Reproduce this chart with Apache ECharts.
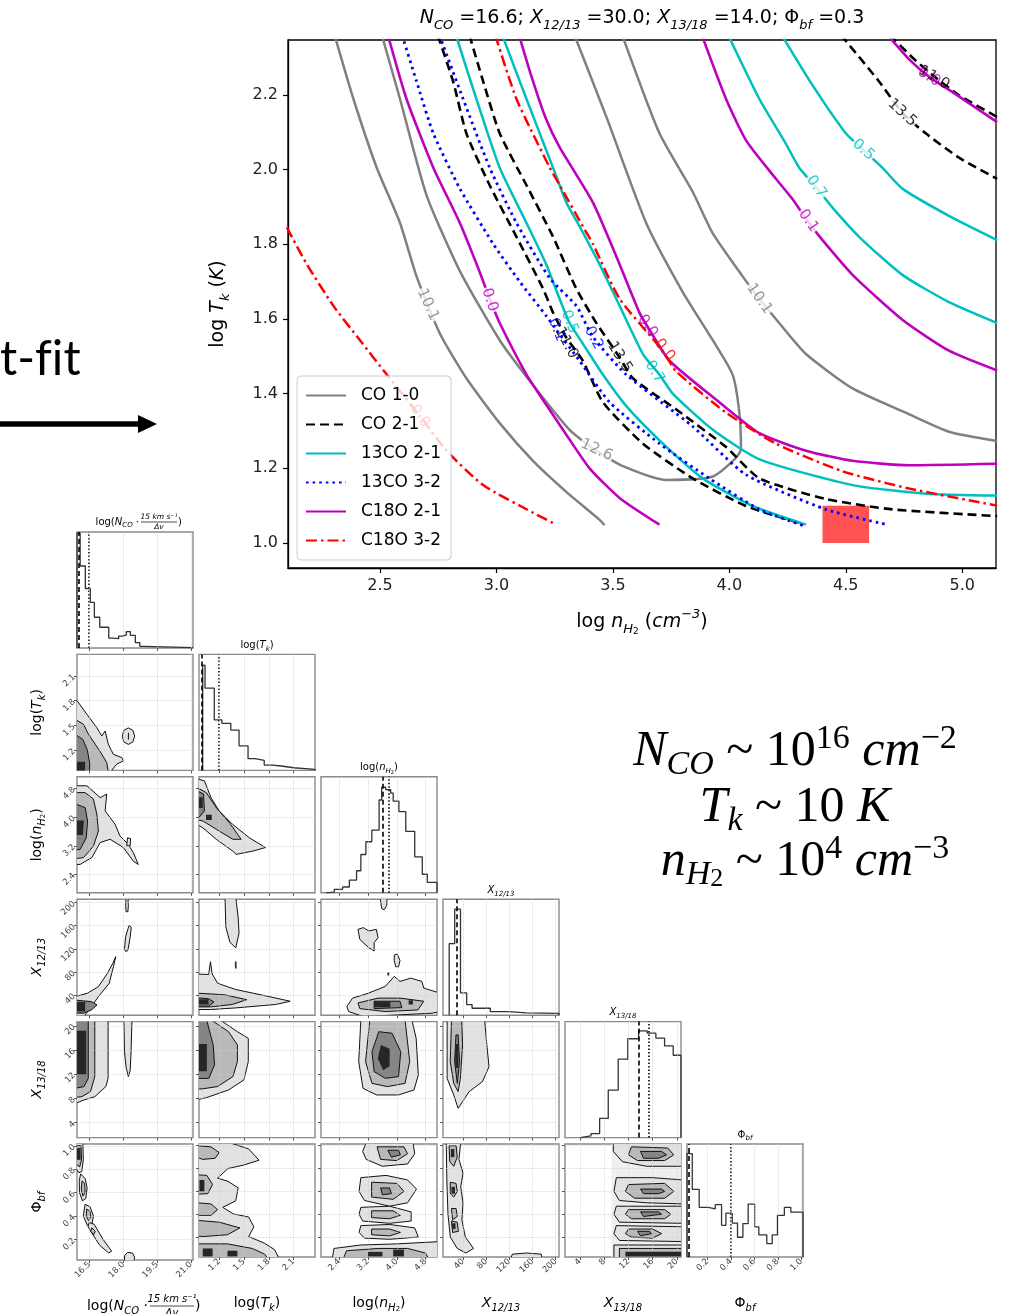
<!DOCTYPE html>
<html><head><meta charset="utf-8">
<script src="https://cdn.jsdelivr.net/npm/echarts@6/dist/echarts.min.js"></script>
<style>html,body{margin:0;padding:0;background:#fff}#c{width:1012px;height:1314px}</style>
</head><body><div id="c"></div><script>
// ================= MAIN CHART DATA (log n_H2, log T_k) =================
const mainXTicks=[2.5,3.0,3.5,4.0,4.5,5.0];
const mainYTicks=[1.0,1.2,1.4,1.6,1.8,2.0,2.2];
const mainXRange=[2.105,5.145];
const mainYRange=[0.933,2.347];
// CO 1-0
const co10_a=[[2.305,2.36],[2.386,2.189],[2.486,2.005],[2.586,1.857],[2.657,1.714],[2.757,1.561],[2.871,1.441],[3.014,1.321],[3.157,1.220],[3.300,1.137],[3.443,1.062],[3.464,1.048]];
const co10_b=[[2.508,2.36],[2.586,2.189],[2.700,1.931],[2.843,1.728],[3.014,1.543],[3.157,1.423],[3.314,1.303],[3.429,1.247],[3.543,1.206],[3.729,1.169],[3.929,1.178],[4.050,1.252],[4.043,1.349],[4.014,1.451],[3.929,1.543],[3.800,1.672],[3.643,1.857],[3.471,2.143],[3.335,2.36]];
const co10_c=[[3.54,2.36],[3.700,2.097],[3.843,1.940],[3.929,1.829],[4.057,1.714],[4.129,1.654],[4.214,1.589],[4.329,1.506],[4.529,1.414],[4.757,1.349],[4.943,1.298],[5.15,1.273]];
// CO 2-1
const co21_a=[[2.748,2.36],[2.814,2.236],[2.871,2.097],[2.971,1.958],[3.086,1.820],[3.200,1.681],[3.243,1.617],[3.30,1.55],[3.371,1.488],[3.457,1.377],[3.629,1.266],[3.843,1.173],[4.071,1.099],[4.300,1.054]];
const co21_b=[[2.884,2.36],[2.943,2.236],[3.014,2.097],[3.129,1.958],[3.243,1.820],[3.343,1.681],[3.429,1.589],[3.529,1.497],[3.586,1.441],[3.771,1.358],[3.986,1.257],[4.129,1.173],[4.414,1.118],[4.700,1.090],[5.15,1.072]];
const co21_c=[[4.48,2.36],[4.643,2.236],[4.743,2.152],[4.843,2.097],[4.986,2.032],[5.15,1.975]];
const co21_d=[[4.69,2.36],[4.786,2.300],[4.871,2.254],[4.986,2.199],[5.15,2.141]];
// 13CO 2-1
const c13_21_a=[[2.826,2.36],[2.914,2.189],[3.014,2.005],[3.129,1.857],[3.214,1.746],[3.271,1.654],[3.314,1.589],[3.371,1.534],[3.457,1.451],[3.557,1.367],[3.700,1.275],[3.886,1.173],[4.100,1.099],[4.329,1.049]];
const c13_21_b=[[3.025,2.36],[3.129,2.189],[3.243,2.005],[3.30,1.912],[3.357,1.848],[3.443,1.746],[3.529,1.635],[3.629,1.506],[3.700,1.451],[3.757,1.400],[3.929,1.303],[4.129,1.224],[4.529,1.155],[4.843,1.132],[5.15,1.127]];
const c13_21_c=[[3.995,2.36],[4.129,2.189],[4.243,2.069],[4.300,2.005],[4.371,1.954],[4.443,1.898],[4.557,1.820],[4.743,1.718],[4.943,1.645],[5.15,1.589]];
const c13_21_d=[[4.225,2.36],[4.357,2.226],[4.500,2.097],[4.571,2.055],[4.657,2.005],[4.743,1.949],[4.943,1.876],[5.15,1.811]];
// 13CO 3-2
const c13_32_a=[[2.595,2.36],[2.657,2.236],[2.729,2.097],[2.843,1.949],[2.986,1.801],[3.100,1.700],[3.214,1.608],[3.257,1.571],[3.357,1.488],[3.486,1.377],[3.700,1.266],[3.914,1.173],[4.129,1.090],[4.329,1.044]];
const c13_32_b=[[2.755,2.36],[2.857,2.189],[2.971,2.005],[3.086,1.857],[3.229,1.709],[3.343,1.635],[3.414,1.552],[3.557,1.451],[3.843,1.312],[4.071,1.183],[4.414,1.090],[4.679,1.049]];
// C18O 2-1
const c18_21_a=[[2.534,2.36],[2.614,2.189],[2.729,2.005],[2.843,1.857],[2.921,1.737],[2.971,1.654],[3.014,1.589],[3.129,1.451],[3.214,1.37],[3.300,1.29],[3.40,1.20],[3.53,1.12],[3.700,1.049]];
const c18_21_b=[[3.097,2.36],[3.15,2.25],[3.21,2.14],[3.271,2.06],[3.414,1.912],[3.529,1.746],[3.614,1.617],[3.657,1.571],[3.743,1.488],[3.957,1.377],[4.129,1.294],[4.329,1.247],[4.529,1.220],[4.771,1.208],[5.15,1.212]];
const c18_21_c=[[3.882,2.36],[3.986,2.189],[4.071,2.079],[4.186,1.986],[4.271,1.921],[4.336,1.862],[4.400,1.811],[4.529,1.718],[4.743,1.598],[4.943,1.515],[5.15,1.462]];
const c18_21_d=[[4.68,2.36],[4.771,2.296],[4.857,2.249],[4.957,2.208],[5.15,2.127]];
// C18O 3-2
const c18_32_a=[[2.10,1.845],[2.186,1.746],[2.300,1.635],[2.414,1.543],[2.529,1.451],[2.671,1.340],[2.786,1.247],[2.943,1.155],[3.157,1.081],[3.257,1.049]];
const c18_32_b=[[2.995,2.36],[3.086,2.189],[3.229,2.005],[3.271,1.959],[3.371,1.848],[3.414,1.801],[3.529,1.654],[3.714,1.515],[3.771,1.460],[3.986,1.349],[4.200,1.266],[4.486,1.192],[4.771,1.146],[5.15,1.100]];
// best-fit box [x0,y0,x1,y1]
const bestBox=[4.4,1.0,4.6,1.1];
// contour labels: [x, y, text, group]
const contourLabels=[
 [2.706,1.638,'10.1',0],[3.43,1.249,'12.6',0],[4.129,1.654,'10.1',0],
 [3.30,1.536,'11.0',1],[3.529,1.498,'13.5',1],[4.742,2.152,'13.5',1],[4.879,2.246,'11.0',1],
 [3.314,1.592,'0.5',2],[3.679,1.458,'0.7',2],[4.373,1.954,'0.7',2],[4.575,2.053,'0.5',2],
 [3.259,1.571,'0.1',3],[3.417,1.549,'0.2',3],
 [2.971,1.651,'0.0',4],[3.649,1.581,'0.0',4],[4.339,1.863,'0.1',4],[4.857,2.248,'0.0',4],
 [2.671,1.340,'0.0',5],[3.722,1.517,'0.0',5]
];
const contourLabelAngles=[-66,-25,-55,-62,-58,-42,-30,-68,-58,-55,-42,-68,-62,-72,-55,-55,-32,-55,-52];
const contourLabelCut=[1,1,1,0,0,1,0,0,0,1,1,0,0,1,0,1,0,0,0];

// ================= CORNER PLOT DATA =================
const rangeN=[15.94,21.09], rangeT=[0.955,2.36], rangeNH=[1.89,5.12], rangeX12=[5.4,205.7], rangeX13=[1.5,20.7], rangePhi=[0.025,1.015];
const ticksN=[16.5,18.0,19.5,21.0], ticksT=[1.2,1.5,1.8,2.1], ticksNH=[2.4,3.2,4.0,4.8], ticksX12=[40,80,120,160,200], ticksX13=[4,8,12,16,20], ticksPhi=[0.2,0.4,0.6,0.8,1.0];
// 1D histograms (bin edges, relative heights), best (dashed) and median (dotted)
const histN_edges=[15.94,16.08,16.31,16.53,16.71,16.95,17.35,17.57,17.79,17.99,18.13,18.31,18.53,18.73,18.91,21.09];
const histN_h=[0.99,0.707,0.513,0.393,0.265,0.179,0.085,0.08,0.103,0.114,0.142,0.108,0.046,0.014,0.004];
const histT_edges=[1.0,1.028,1.14,1.232,1.34,1.44,1.549,1.633,1.745,1.842,1.95,2.1,2.36];
const histT_h=[0.907,0.71,0.435,0.406,0.348,0.212,0.101,0.087,0.046,0.038,0.023,0.009];
const histNH_edges=[2.03,2.26,2.49,2.68,2.88,3.0,3.14,3.305,3.508,3.58,3.69,3.83,3.90,4.06,4.25,4.50,4.71,4.85,5.12];
const histNH_h=[0.006,0.03,0.05,0.11,0.19,0.33,0.44,0.54,0.8,0.91,0.89,0.86,0.79,0.70,0.53,0.31,0.16,0.09];
const histX12_edges=[16.1,25.6,35.6,46.3,55.6,87.1,118.3,149.9,205.7];
const histX12_h=[0.617,0.914,0.193,0.092,0.06,0.03,0.02,0.015];
const histX13_edges=[4.01,5.80,7.23,8.66,10.31,11.89,13.68,15.11,16.54,17.98,19.41,20.7];
const histX13_h=[0.014,0.034,0.165,0.41,0.676,0.852,0.92,0.9,0.858,0.79,0.71];
const histPhi_edges=[0.025,0.07,0.129,0.207,0.266,0.32,0.357,0.411,0.456,0.502,0.547,0.602,0.638,0.706,0.752,0.797,0.856,0.911,0.979,1.015];
const histPhi_h=[0.914,0.598,0.44,0.425,0.463,0.28,0.388,0.30,0.175,0.296,0.468,0.267,0.195,0.118,0.195,0.368,0.44,0.397,0.397];
const bestVals=[16.02,0.987,3.6,29.4,13.7,0.039];
const medianVals=[16.46,1.2,3.78,null,15.33,0.4];

// 2D contour polygons (data units)
const p10_outer=[[15.85,1.835],[16.38,1.634],[16.82,1.473],[17.04,1.372],[17.19,1.433],[17.33,1.272],[17.55,1.151],[17.93,1.11],[18.0,1.07],[17.7,1.03],[17.41,0.93],[15.85,0.93]];
const p10_mid=[[15.85,1.574],[16.23,1.513],[16.45,1.393],[16.75,1.272],[17.04,1.151],[17.26,1.05],[17.33,0.93],[15.85,0.93]];
const p10_inner=[[15.85,1.393],[16.2,1.33],[16.4,1.2],[16.5,1.05],[16.5,0.93],[15.85,0.93]];
const p10_core=[[15.85,1.06],[16.3,1.06],[16.3,0.93],[15.85,0.93]];
const p10_isl=[[18.22,1.47],[18.42,1.44],[18.5,1.37],[18.42,1.30],[18.22,1.27],[18.02,1.30],[17.95,1.37],[18.02,1.44]];
const p10_mark=[[18.2,1.33],[18.25,1.33],[18.25,1.41],[18.2,1.41]];
const p20_outer=[[15.85,4.87],[16.38,4.87],[16.97,4.54],[17.26,4.64],[17.19,4.17],[17.63,3.8],[17.85,3.47],[18.22,3.24],[18.44,3.01],[18.66,2.68],[18.44,2.77],[18.0,3.15],[17.41,3.38],[16.97,3.29],[16.6,2.87],[16.08,2.68],[15.85,2.68]];
const p20_mid=[[15.85,4.68],[16.3,4.68],[16.67,4.5],[16.82,4.08],[16.89,3.61],[16.67,3.19],[16.23,2.87],[15.85,2.84]];
const p20_inner=[[15.85,4.37],[16.3,4.26],[16.41,3.89],[16.35,3.42],[16.08,3.1],[15.85,3.08]];
const p20_core=[[15.85,3.5],[16.2,3.5],[16.25,3.9],[15.85,3.9]];
const p20_isl=[[18.15,3.2],[18.3,3.2],[18.32,3.4],[18.18,3.42]];
const p21_outer=[[0.93,5.06],[1.02,5.01],[1.10,4.54],[1.20,4.17],[1.36,3.8],[1.566,3.42],[1.759,3.15],[1.605,3.05],[1.405,2.96],[1.364,3.05],[1.164,3.38],[1.002,3.70],[0.93,3.80]];
const p21_mid=[[0.93,4.82],[1.043,4.68],[1.164,4.26],[1.324,3.84],[1.465,3.38],[1.364,3.38],[1.164,3.66],[1.002,3.89],[0.93,3.92]];
const p21_inner=[[0.93,4.73],[1.01,4.64],[1.02,4.17],[0.96,4.0],[0.93,4.0]];
const p21_core=[[1.04,3.92],[1.11,3.92],[1.11,4.06],[1.04,4.06]];
const p21_core2=[[0.93,4.25],[1.0,4.25],[1.0,4.55],[0.93,4.55]];
const p30_outer=[[15.85,37.4],[16.4,43.3],[16.89,54.7],[17.29,77.8],[17.53,95.1],[17.66,106.6],[17.56,89.4],[17.37,60.4],[16.89,37.4],[16.48,14.7],[16.24,3],[15.85,3]];
const p30_inner=[[15.85,31.6],[16.59,28.8],[16.83,23.2],[16.59,14.7],[16.24,8.9],[15.85,8.9]];
const p30_core=[[15.85,12],[16.3,12],[16.3,28],[15.85,28]];
const p30_isl1=[[18.05,120.3],[18.1,141.4],[18.25,160.4],[18.35,157.3],[18.3,140],[18.2,117.3],[18.1,115.2]];
const p30_isl2=[[18.12,184.1],[18.2,184.1],[18.22,194.7],[18.2,210],[18.12,210],[18.1,194.7]];
const p31_outer=[[0.93,76.5],[1.072,75.7],[1.094,97.8],[1.115,76.5],[1.182,60.4],[1.401,49.7],[1.708,40.5],[2.059,29.5],[1.884,23.9],[1.401,18.0],[1.094,15.2],[0.93,15.2]];
const p31_mid=[[0.93,43.6],[1.27,40.5],[1.533,32.2],[1.357,23.9],[1.094,19.7],[0.93,19.7]];
const p31_inner=[[0.93,35.5],[1.072,33.7],[1.137,28.1],[1.072,21.0],[0.93,21.0]];
const p31_core=[[0.93,24],[1.07,24],[1.07,33],[0.93,33]];
const p31_isl=[[1.27,210],[1.28,157.6],[1.33,131.2],[1.40,121.7],[1.44,147.0],[1.43,173.4],[1.40,210]];
const p31_mark=[[1.39,86],[1.41,86],[1.41,98],[1.39,98]];
const p32_outer=[[2.61,20.6],[2.77,34.9],[3.17,42.5],[3.68,55.1],[3.93,72.4],[4.09,63.7],[4.39,69.4],[4.70,63.7],[4.75,52.2],[5.2,43.6],[5.2,11.7],[4.98,8.8],[3.07,3],[2.66,11.7]];
const p32_mid=[[2.92,26.6],[3.48,34.9],[4.09,34.9],[4.75,29.5],[4.59,14.5],[3.68,11.7],[2.97,16.8]];
const p32_inner=[[3.37,29.5],[4.09,29.5],[4.14,18.5],[3.37,16.8]];
const p32_core=[[3.37,19],[3.82,19],[3.82,29],[3.37,29]];
const p32_core2=[[4.33,24],[4.45,24],[4.45,31],[4.33,31]];
const p32_isl1=[[2.92,153.6],[3.07,156.6],[3.22,150.9],[3.43,153.6],[3.48,139.3],[3.37,130.7],[3.37,116.3],[3.22,122.0],[2.97,136.4]];
const p32_isl2=[[3.53,210],[3.58,189.6],[3.65,187.5],[3.72,194.9],[3.73,210]];
const p32_isl3=[[3.93,109.2],[4.01,111],[4.09,100],[4.05,89],[3.97,89],[3.93,100]];
const p32_dot=[[3.74,74],[3.79,74],[3.79,79],[3.74,79]];
const p40_outer=[[15.85,21],[17.32,21],[17.32,11.32],[17.22,9.95],[16.73,8.27],[16.25,7.73],[15.85,7.13]];
const p40_mid=[[15.85,21],[16.73,21],[16.73,11.6],[16.54,9.11],[16.15,8.27],[15.85,8.17]];
const p40_inner=[[15.85,21],[16.44,21],[16.44,11.3],[16.25,9.95],[15.85,9.65]];
const p40_core=[[15.85,12],[16.35,12],[16.35,19.2],[15.85,19.2]];
const p40_isl=[[18.02,21],[18.05,15.7],[18.12,13.1],[18.22,11.6],[18.3,12.6],[18.34,15.7],[18.38,21]];
const p41_outer=[[0.93,21],[1.207,21],[1.42,19.03],[1.552,17.93],[1.552,14.08],[1.499,11.04],[1.313,9.39],[1.047,8.12],[0.93,7.75]];
const p41_mid=[[0.93,21],[1.101,21],[1.313,19.03],[1.42,16.84],[1.42,14.08],[1.366,11.6],[1.18,9.95],[0.993,9.56],[0.93,9.56]];
const p41_inner=[[0.93,21],[1.047,21],[1.127,16.84],[1.143,13.53],[1.074,11.3],[0.93,11.3]];
const p41_core=[[0.93,12.5],[1.05,12.5],[1.05,17],[0.93,17]];
const p42_outer=[[3.0,21],[2.94,14.08],[3.06,9.65],[3.44,8.56],[4.05,8.56],[4.48,9.39],[4.60,11.87],[4.54,17.93],[4.42,21]];
const p42_mid=[[3.25,21],[3.13,14.08],[3.31,10.48],[3.74,9.94],[4.23,10.48],[4.36,14.08],[4.23,21]];
const p42_inner=[[3.5,19.03],[3.31,15.73],[3.37,12.42],[3.68,11.31],[4.05,11.6],[4.11,15.73],[3.87,18.77]];
const p42_core=[[3.56,16.84],[3.47,14.64],[3.62,12.66],[3.8,13.29],[3.8,16.21]];
const p43_outer=[[12.5,21],[12.5,11.3],[23.9,8.56],[31.5,6.35],[39.2,7.45],[50.6,9.11],[73.5,10.76],[84.9,13.24],[81.1,16.84],[77.3,21]];
const p43_mid=[[20.1,21],[17.9,14.08],[23.9,10.48],[31.5,9.11],[35.4,11.31],[39.2,16.84],[37.7,21]];
const p43_inner=[[27.8,18.5],[25.5,14.08],[30.1,10.48],[33.9,14.08],[31.5,18.5]];
const p43_core=[[26.5,13],[32,13],[32,17],[26.5,17]];
const p50_b1=[[15.85,1.03],[16.2,1.03],[16.22,0.88],[16.15,0.78],[16.02,0.77],[15.85,0.82]];
const p50_b1i=[[15.85,1.0],[16.12,1.0],[16.14,0.88],[16.06,0.82],[15.85,0.85]];
const p50_b2=[[16.1,0.76],[16.3,0.72],[16.39,0.64],[16.33,0.55],[16.18,0.53],[16.05,0.6],[16.04,0.7]];
const p50_b2i=[[16.16,0.7],[16.28,0.68],[16.3,0.6],[16.2,0.57],[16.13,0.63]];
const p50_b3=[[16.3,0.5],[16.52,0.48],[16.67,0.40],[16.6,0.33],[16.4,0.32],[16.22,0.40]];
const p50_b3i=[[16.37,0.46],[16.52,0.44],[16.56,0.39],[16.45,0.36],[16.35,0.40]];
const p50_b4=[[16.48,0.345],[16.7,0.33],[17.1,0.2],[17.48,0.1],[17.35,0.085],[16.95,0.15],[16.55,0.27],[16.43,0.31]];
const p50_b4i=[[16.6,0.3],[16.75,0.27],[16.68,0.24],[16.55,0.27]];
const p50_b5=[[18.05,0.0],[18.05,0.06],[18.18,0.09],[18.4,0.085],[18.5,0.05],[18.45,0.0]];
const p50_core=[[15.85,0.88],[16.1,0.88],[16.1,0.98],[15.85,0.98]];
const p51_outer=[[0.93,1.03],[1.31,1.03],[1.557,0.972],[1.682,0.873],[1.494,0.83],[1.306,0.80],[1.18,0.716],[1.306,0.688],[1.43,0.631],[1.40,0.517],[1.243,0.46],[1.37,0.403],[1.557,0.375],[1.62,0.29],[1.557,0.204],[1.745,0.147],[1.87,0.09],[1.934,0.0],[0.93,0.0]];
const p51_a=[[0.93,1.0],[1.1,0.99],[1.2,0.94],[1.15,0.89],[1.0,0.88],[0.93,0.9]];
const p51_b=[[0.93,0.745],[1.05,0.74],[1.12,0.66],[1.06,0.58],[0.93,0.575]];
const p51_c=[[0.93,0.5],[1.1,0.49],[1.18,0.44],[1.1,0.39],[0.93,0.39]];
const p51_d=[[0.93,0.346],[1.2,0.33],[1.45,0.28],[1.3,0.22],[1.0,0.204],[0.93,0.21]];
const p51_e=[[0.93,0.14],[1.3,0.14],[1.6,0.1],[1.75,0.05],[1.8,0.0],[0.93,0.0]];
const p51_core1=[[1.0,0.03],[1.12,0.03],[1.12,0.1],[1.0,0.1]];
const p51_core2=[[1.3,0.03],[1.42,0.03],[1.42,0.08],[1.3,0.08]];
const p51_core3=[[0.96,0.6],[1.02,0.6],[1.02,0.7],[0.96,0.7]];
const p52_a0=[[3.15,1.03],[4.45,1.03],[4.5,0.93],[4.3,0.84],[3.6,0.82],[3.15,0.88],[3.05,0.95]];
const p52_a1=[[3.45,0.99],[4.2,0.99],[4.3,0.93],[4.0,0.87],[3.55,0.88]];
const p52_a2=[[3.75,0.96],[4.05,0.96],[4.1,0.92],[3.85,0.9]];
const p52_b0=[[3.0,0.72],[3.7,0.74],[4.3,0.7],[4.55,0.62],[4.3,0.5],[3.8,0.47],[3.1,0.52],[2.95,0.6]];
const p52_b1=[[3.3,0.68],[4.0,0.67],[4.2,0.6],[3.9,0.53],[3.3,0.55]];
const p52_b2=[[3.55,0.63],[3.8,0.63],[3.85,0.58],[3.6,0.57]];
const p52_c0=[[3.0,0.46],[3.8,0.47],[4.4,0.42],[4.4,0.34],[3.8,0.32],[3.05,0.34],[2.95,0.4]];
const p52_c1=[[3.3,0.43],[3.9,0.43],[4.1,0.39],[3.8,0.36],[3.3,0.37]];
const p52_d0=[[3.0,0.3],[3.8,0.31],[4.5,0.28],[4.6,0.2],[3.8,0.18],[3.1,0.19],[2.95,0.24]];
const p52_d1=[[3.3,0.27],[3.8,0.27],[4.1,0.24],[3.8,0.21],[3.3,0.22]];
const p52_e0=[[2.2,0.0],[2.25,0.1],[3.0,0.13],[4.0,0.14],[5.2,0.16],[5.2,0.0]];
const p52_e1=[[2.5,0.0],[2.6,0.08],[3.5,0.1],[4.3,0.1],[4.8,0.06],[4.9,0.0]];
const p52_core1=[[3.2,0.03],[3.6,0.03],[3.6,0.07],[3.2,0.07]];
const p52_core2=[[3.9,0.03],[4.2,0.03],[4.2,0.09],[3.9,0.09]];
const p53_outer=[[11,1.03],[36,1.03],[33,0.88],[40,0.76],[36,0.64],[40,0.5],[38,0.35],[44,0.2],[58,0.1],[45,0.06],[30,0.1],[18,0.2],[14,0.4],[12,0.7]];
const p53_i1=[[16,1.0],[28,1.0],[30,0.9],[24,0.82],[17,0.86]];
const p53_i2=[[18,0.68],[28,0.67],[30,0.6],[24,0.55],[18,0.58]];
const p53_i3=[[20,0.45],[28,0.45],[30,0.38],[22,0.35]];
const p53_i4=[[20,0.34],[30,0.33],[32,0.25],[22,0.24]];
const p53_core1=[[19,0.9],[25,0.9],[25,0.97],[19,0.97]];
const p53_core2=[[20,0.58],[26,0.58],[26,0.64],[20,0.64]];
const p53_core3=[[21,0.27],[27,0.27],[27,0.32],[21,0.32]];
const p53_isl=[[122,0.0],[125,0.05],[150,0.06],[175,0.05],[176,0.0]];
const p54_bg=[[9.2,0.0],[9.2,1.03],[21,1.03],[21,0.0]];
const p54_a0=[[9.5,1.03],[21,1.03],[21,0.82],[15,0.82],[11,0.86],[9.5,0.95]];
const p54_a1=[[12.5,0.99],[18.5,0.98],[19.5,0.92],[18,0.87],[13.5,0.87],[12,0.92]];
const p54_a2=[[14,0.95],[17.5,0.95],[18.3,0.92],[17,0.89],[14.5,0.89]];
const p54_b0=[[10,0.72],[16,0.72],[21,0.7],[21,0.49],[15,0.5],[10.5,0.52],[9.6,0.6]];
const p54_b1=[[12,0.66],[18,0.67],[19.5,0.6],[18,0.54],[13,0.54],[11.5,0.6]];
const p54_b2=[[14,0.62],[17.5,0.62],[18,0.6],[17,0.58],[14.5,0.58]];
const p54_c0=[[10,0.47],[21,0.47],[21,0.32],[10.5,0.33],[9.6,0.4]];
const p54_c1=[[12,0.44],[18,0.44],[19,0.4],[18,0.36],[12.5,0.36],[11.5,0.4]];
const p54_c2=[[14,0.42],[17,0.42],[17.5,0.4],[14.5,0.38]];
const p54_d0=[[10,0.3],[21,0.29],[21,0.16],[10.5,0.17],[9.6,0.23]];
const p54_d1=[[12,0.27],[16,0.27],[17.5,0.23],[16,0.19],[12.5,0.2],[11.5,0.23]];
const p54_d2=[[13.5,0.25],[15.5,0.25],[15.8,0.23],[14,0.21]];
const p54_e0=[[9.6,0.13],[21,0.13],[21,0.0],[9.6,0.0]];
const p54_e1=[[10.5,0.1],[21,0.1],[21,0.0],[10.5,0.0]];
const p54_core=[[11.5,0.03],[21,0.03],[21,0.07],[11.5,0.07]];

// ================= BUILD =================
const FONT='DejaVu Sans';
const chart=echarts.init(document.getElementById('c'),null,{renderer:'canvas',width:1012,height:1314});
const grids=[],xAxes=[],yAxes=[],series=[],graphics=[];

const mainRich={
 n:{fontSize:19,fontFamily:FONT,color:'#000',lineHeight:28},
 i:{fontSize:19,fontFamily:FONT,fontStyle:'italic',color:'#000',lineHeight:28},
 s:{fontSize:13,fontFamily:FONT,fontStyle:'italic',color:'#000',lineHeight:13,verticalAlign:'bottom'},
 ss:{fontSize:9,fontFamily:FONT,color:'#000',lineHeight:8,verticalAlign:'bottom'},
 sup:{fontSize:13,fontFamily:FONT,fontStyle:'italic',color:'#000',lineHeight:13,verticalAlign:'top'}
};
grids.push({left:288,top:40,width:708,height:528,show:true,borderColor:'#000',borderWidth:1.3,backgroundColor:'transparent'});
xAxes.push({gridIndex:0,type:'value',min:mainXRange[0],max:mainXRange[1],
 axisLine:{show:true,lineStyle:{color:'#000',width:1.3}},
 axisTick:{show:true,customValues:mainXTicks,length:5,lineStyle:{color:'#000',width:1.2}},
 axisLabel:{customValues:mainXTicks,formatter:v=>v.toFixed(1),fontSize:16,color:'#222',fontFamily:FONT,margin:10},
 splitLine:{show:false},
 name:'{n|log }{i|n}{s|H}{ss|2}{n| (}{i|cm}{sup|−3}{n|)}',nameLocation:'middle',nameGap:40,nameTextStyle:{rich:mainRich}});
yAxes.push({gridIndex:0,type:'value',min:mainYRange[0],max:mainYRange[1],
 axisLine:{show:true,lineStyle:{color:'#000',width:1.3}},
 axisTick:{show:true,customValues:mainYTicks,length:5,lineStyle:{color:'#000',width:1.2}},
 axisLabel:{customValues:mainYTicks,formatter:v=>v.toFixed(1),fontSize:16,color:'#222',fontFamily:FONT,margin:10},
 splitLine:{show:false},
 name:'{n|log }{i|T}{s|k}{n| (}{i|K}{n|)}',nameLocation:'middle',nameGap:56,nameRotate:90,nameTextStyle:{rich:mainRich}});

const groups=[
 {name:'CO 1-0',lines:[co10_a,co10_b,co10_c],color:'#808080',type:'solid',w:2.5},
 {name:'CO 2-1',lines:[co21_a,co21_b,co21_c,co21_d],color:'#000000',type:[9,5],w:2.6},
 {name:'13CO 2-1',lines:[c13_21_a,c13_21_b,c13_21_c,c13_21_d],color:'#00bfbf',type:'solid',w:2.5},
 {name:'13CO 3-2',lines:[c13_32_a,c13_32_b],color:'#0000ff',type:[2.6,4],w:2.8},
 {name:'C18O 2-1',lines:[c18_21_a,c18_21_b,c18_21_c,c18_21_d],color:'#bf00bf',type:'solid',w:2.6},
 {name:'C18O 3-2',lines:[c18_32_a,c18_32_b],color:'#ff0000',type:[11,4,2.5,4],w:2.5}
];
// best-fit box
series.push({type:'custom',xAxisIndex:0,yAxisIndex:0,data:[[bestBox[0],bestBox[1]],[bestBox[2],bestBox[3]]],silent:true,z:1,
 renderItem:(p,api)=>{ if(p.dataIndex!==0) return {type:'group',children:[]};
   const a=api.coord([bestBox[0],bestBox[1]]),b=api.coord([bestBox[2],bestBox[3]]);
   return {type:'rect',shape:{x:a[0],y:b[1],width:b[0]-a[0],height:a[1]-b[1]},style:{fill:'#ff5353'}};}});
groups.forEach(g=>{g.lines.forEach(l=>{series.push({type:'line',name:g.name,xAxisIndex:0,yAxisIndex:0,data:l,showSymbol:false,symbol:'none',smooth:0.2,clip:true,z:3,
  lineStyle:{color:g.color,width:g.w,type:g.type},itemStyle:{color:g.color}});});});
series.push({type:'scatter',xAxisIndex:0,yAxisIndex:0,symbolSize:1,itemStyle:{color:'rgba(0,0,0,0)'},z:4,silent:true,
 data:contourLabels.map((d,k)=>({value:[d[0],d[1]],label:{show:true,position:'inside',formatter:d[2],rotate:contourLabelAngles[k],
   fontSize:15,fontFamily:FONT,color:groups[d[3]].color,backgroundColor:contourLabelCut[k]?'#fff':'transparent',padding:[0,1]}}))});

// ---------- corner plot ----------
const ranges=[rangeN,rangeT,rangeNH,rangeX12,rangeX13,rangePhi];
const ticks=[ticksN,ticksT,ticksNH,ticksX12,ticksX13,ticksPhi];
const decs=[1,1,1,0,0,1];
const hists=[[histN_edges,histN_h],[histT_edges,histT_h],[histNH_edges,histNH_h],[histX12_edges,histX12_h],[histX13_edges,histX13_h],[histPhi_edges,histPhi_h]];
const cRich={
 n:{fontSize:14,fontFamily:FONT,color:'#000',lineHeight:20},
 i:{fontSize:14,fontFamily:FONT,fontStyle:'italic',color:'#000',lineHeight:20},
 s:{fontSize:10,fontFamily:FONT,fontStyle:'italic',color:'#000',lineHeight:10,verticalAlign:'bottom'},
 ss:{fontSize:7,fontFamily:FONT,color:'#000',lineHeight:6,verticalAlign:'bottom'}
};
const sRich={
 n:{fontSize:10,fontFamily:FONT,color:'#000',lineHeight:14},
 i:{fontSize:10,fontFamily:FONT,fontStyle:'italic',color:'#000',lineHeight:14},
 s:{fontSize:7,fontFamily:FONT,fontStyle:'italic',color:'#000',lineHeight:7,verticalAlign:'bottom'},
 ss:{fontSize:5,fontFamily:FONT,color:'#000',lineHeight:4,verticalAlign:'bottom'}
};
const pNames=['','{n|log(}{i|T}{s|k}{n|)}','{n|log(}{i|n}{s|H}{ss|2}{n|)}','{i|X}{s|12/13}','{i|X}{s|13/18}','{n|Φ}{s|bf}'];
const shapes={
 '1,0':{l0:[p10_outer,p10_isl],l1:[p10_mid],l2:[p10_inner],core:[p10_core,p10_mark]},
 '2,0':{l0:[p20_outer,p20_isl],l1:[p20_mid],l2:[p20_inner],core:[p20_core]},
 '2,1':{l0:[p21_outer],l1:[p21_mid],l2:[p21_inner],core:[p21_core,p21_core2]},
 '3,0':{l0:[p30_outer,p30_isl1,p30_isl2],l1:[],l2:[p30_inner],core:[p30_core]},
 '3,1':{l0:[p31_outer,p31_isl],l1:[p31_mid],l2:[p31_inner],core:[p31_core,p31_mark]},
 '3,2':{l0:[p32_outer,p32_isl1,p32_isl2,p32_isl3],l1:[p32_mid],l2:[p32_inner],core:[p32_core,p32_core2,p32_dot]},
 '4,0':{l0:[p40_outer,p40_isl],l1:[p40_mid],l2:[p40_inner],core:[p40_core]},
 '4,1':{l0:[p41_outer],l1:[p41_mid],l2:[p41_inner],core:[p41_core]},
 '4,2':{l0:[p42_outer],l1:[p42_mid],l2:[p42_inner],core:[p42_core]},
 '4,3':{l0:[p43_outer],l1:[p43_mid],l2:[p43_inner],core:[p43_core]},
 '5,0':{l0:[p50_b1,p50_b2,p50_b3,p50_b4,p50_b5],l1:[p50_b1i,p50_b2i,p50_b3i,p50_b4i],l2:[],core:[p50_core]},
 '5,1':{l0:[p51_outer],l1:[p51_a,p51_b,p51_c,p51_d,p51_e],l2:[],core:[p51_core1,p51_core2,p51_core3]},
 '5,2':{l0:[p52_a0,p52_b0,p52_c0,p52_d0,p52_e0],l1:[p52_a1,p52_b1,p52_c1,p52_d1,p52_e1],l2:[p52_a2,p52_b2],core:[p52_core1,p52_core2]},
 '5,3':{l0:[p53_outer,p53_isl],l1:[p53_i1,p53_i2,p53_i3,p53_i4],l2:[],core:[p53_core1,p53_core2,p53_core3]},
 '5,4':{bg:[p54_bg],l0:[p54_a0,p54_b0,p54_c0,p54_d0,p54_e0],l1:[p54_a1,p54_b1,p54_c1,p54_d1,p54_e1],l2:[p54_a2,p54_b2,p54_c2,p54_d2],core:[p54_core]}
};
const levelStyle={bg:{fill:'#efefef',stroke:null},l0:{fill:'#e2e2e2',stroke:'#111'},l1:{fill:'#b9b9b9',stroke:'#111'},l2:{fill:'#858585',stroke:'#111'},core:{fill:'#262626',stroke:null}};
function polySeries(gi,pts,st,z){
 return {type:'custom',xAxisIndex:gi,yAxisIndex:gi,data:pts,silent:true,clip:true,z:z,
  renderItem:(p,api)=>{ if(p.dataIndex!==0) return {type:'group',children:[]};
   return {type:'polygon',shape:{points:pts.map(q=>api.coord(q))},style:{fill:st.fill,stroke:st.stroke||'none',lineWidth:st.stroke?1:0}};}};
}
function stepData(e,h){const d=[[e[0],0]];for(let i=0;i<h.length;i++){d.push([e[i],h[i]]);d.push([e[i+1],h[i]]);}d.push([e[e.length-1],0]);return d;}
function tickAxis(gi,k,showLbl){
 return {gridIndex:gi,type:'value',min:ranges[k][0],max:ranges[k][1],
  axisLine:{show:false},
  axisTick:{show:true,customValues:ticks[k],length:3,lineStyle:{color:'#555',width:1}},
  axisLabel:{show:showLbl,customValues:ticks[k],formatter:v=>v.toFixed(decs[k]),rotate:45,fontSize:8.5,color:'#444',fontFamily:FONT,margin:3},
  splitLine:{show:false}};
}
let gi=1;
for(let r=0;r<6;r++){for(let c=0;c<=r;c++){
 grids.push({left:77+122*c,top:532+122.4*r,width:116,height:116,show:true,borderColor:'#8a8a8a',borderWidth:1.4,backgroundColor:'transparent'});
 const xa=tickAxis(gi,c,r===5);
 if(r===5&&c>0){xa.name=pNames[c];xa.nameLocation='middle';xa.nameGap=36;xa.nameTextStyle={rich:cRich};}
 xAxes.push(xa);
 if(r===c){
  yAxes.push({gridIndex:gi,type:'value',min:0,max:1.0,show:false});
  const hh=hists[c];
  const ml=[{xAxis:bestVals[c],lineStyle:{type:[5,3],color:'#000',width:1.6}}];
  if(medianVals[c]!==null) ml.push({xAxis:medianVals[c],lineStyle:{type:[1.5,2],color:'#000',width:1.6}});
  series.push({type:'line',xAxisIndex:gi,yAxisIndex:gi,data:stepData(hh[0],hh[1]),symbol:'none',showSymbol:false,silent:true,z:3,
   lineStyle:{color:'#333',width:1.3},
   markLine:{silent:true,symbol:'none',label:{show:false},animation:false,data:ml}});
  series.push({type:'line',xAxisIndex:gi,yAxisIndex:gi,data:[],silent:true,
   markLine:{silent:true,symbol:'none',label:{show:false},animation:false,lineStyle:{type:'dotted',color:'#cfcfcf',width:0.8},
   data:ticks[c].map(v=>({xAxis:v}))}});
 } else {
  const ya=tickAxis(gi,r,c===0);
  if(c===0){ya.name=pNames[r];ya.nameLocation='middle';ya.nameGap=30;ya.nameRotate=90;ya.nameTextStyle={rich:cRich};}
  yAxes.push(ya);
  const sh=shapes[r+','+c];
  let z=2;
  ['bg','l0','l1','l2','core'].forEach(L=>{(sh[L]||[]).forEach(pts=>{series.push(polySeries(gi,pts,levelStyle[L],z));});z++;});
  series.push({type:'line',xAxisIndex:gi,yAxisIndex:gi,data:[],silent:true,
   markLine:{silent:true,symbol:'none',label:{show:false},animation:false,lineStyle:{type:'dotted',color:'#cfcfcf',width:0.8},
   data:ticks[c].map(v=>({xAxis:v})).concat(ticks[r].map(v=>({yAxis:v})))}});
 }
 gi++;
}}

// ---------- texts ----------
graphics.push({type:'text',x:642,y:18,style:{text:'{i|N}{s|CO}{n| =16.6; }{i|X}{s|12/13}{n| =30.0; }{i|X}{s|13/18}{n| =14.0; Φ}{s|bf}{n| =0.3}',rich:mainRich,align:'center',verticalAlign:'middle'}});
graphics.push({type:'text',x:0,y:360,style:{text:'t-f\u200Cit',fontSize:48,fontFamily:'Lato',fill:'#000',align:'left',verticalAlign:'middle'}});
graphics.push({type:'line',shape:{x1:0,y1:424,x2:142,y2:424},style:{stroke:'#000',lineWidth:5.5}});
graphics.push({type:'polygon',shape:{points:[[138,415],[157,424],[138,433]]},style:{fill:'#000'}});
const eqRich={
 n:{fontSize:50,fontFamily:'Liberation Serif',color:'#000',lineHeight:60},
 i:{fontSize:50,fontFamily:'Liberation Serif',fontStyle:'italic',color:'#000',lineHeight:60},
 s:{fontSize:34,fontFamily:'Liberation Serif',fontStyle:'italic',color:'#000',lineHeight:30,verticalAlign:'bottom'},
 ss:{fontSize:26,fontFamily:'Liberation Serif',color:'#000',lineHeight:18,verticalAlign:'bottom'},
 sup:{fontSize:34,fontFamily:'Liberation Serif',color:'#000',lineHeight:32,verticalAlign:'top'}
};
graphics.push({type:'text',x:795,y:752,style:{text:'{i|N}{s|CO}{n| ~ 10}{sup|16}{i| cm}{sup|−2}',rich:eqRich,align:'center',verticalAlign:'middle'}});
graphics.push({type:'text',x:795,y:808,style:{text:'{i|T}{s|k}{n| ~ 10 }{i|K}',rich:eqRich,align:'center',verticalAlign:'middle'}});
graphics.push({type:'text',x:805,y:862,style:{text:'{i|n}{s|H}{ss|2}{n| ~ 10}{sup|4}{i| cm}{sup|−3}',rich:eqRich,align:'center',verticalAlign:'middle'}});
// diag titles
const diagTitles=['','{n|log(}{i|T}{s|k}{n|)}','{n|log(}{i|n}{s|H}{ss|2}{n|)}','{i|X}{s|12/13}','{i|X}{s|13/18}','{n|Φ}{s|bf}'];
for(let k=1;k<6;k++){graphics.push({type:'text',x:77+122*k+58,y:532+122.4*k-9,style:{text:diagTitles[k],rich:sRich,align:'center',verticalAlign:'middle'}});}
function ncoTitle(fx,y,big){
 const R=big?cRich:sRich, f=big?10:7.5, half=big?22:18;
 const out=[];
 out.push({type:'text',x:fx-half-2,y:y,style:{text:'{n|log(}{i|N}{s|CO}{n| ·}',rich:R,align:'right',verticalAlign:'middle'}});
 out.push({type:'text',x:fx,y:y-(big?7:5),style:{text:'15 km s⁻¹',fontSize:f,fontFamily:FONT,fontStyle:'italic',fill:'#000',align:'center',verticalAlign:'middle'}});
 out.push({type:'line',shape:{x1:fx-half,y1:y,x2:fx+half,y2:y},style:{stroke:'#000',lineWidth:0.7}});
 out.push({type:'text',x:fx,y:y+(big?7:5),style:{text:'Δv',fontSize:f,fontFamily:FONT,fontStyle:'italic',fill:'#000',align:'center',verticalAlign:'middle'}});
 out.push({type:'text',x:fx+half+1,y:y,style:{text:'{n|)}',rich:R,align:'left',verticalAlign:'middle'}});
 return out;
}
ncoTitle(159,522,false).forEach(e=>graphics.push(e));
ncoTitle(172,1306,true).forEach(e=>graphics.push(e));

chart.setOption({
 animation:false,backgroundColor:'#fff',
 grid:grids,xAxis:xAxes,yAxis:yAxes,series:series,graphic:graphics,
 legend:{data:groups.map(g=>g.name),orient:'vertical',left:297,top:376,itemWidth:40,itemHeight:14,itemGap:12,
  itemStyle:{opacity:0,borderWidth:0},
  textStyle:{fontSize:17,fontFamily:FONT,color:'#000',padding:[0,0,0,10]},backgroundColor:'rgba(255,255,255,0.8)',
  borderColor:'#cccccc',borderWidth:1,borderRadius:4,padding:[11,10,11,8],selectedMode:false,z:10}
});
</script></body></html>
